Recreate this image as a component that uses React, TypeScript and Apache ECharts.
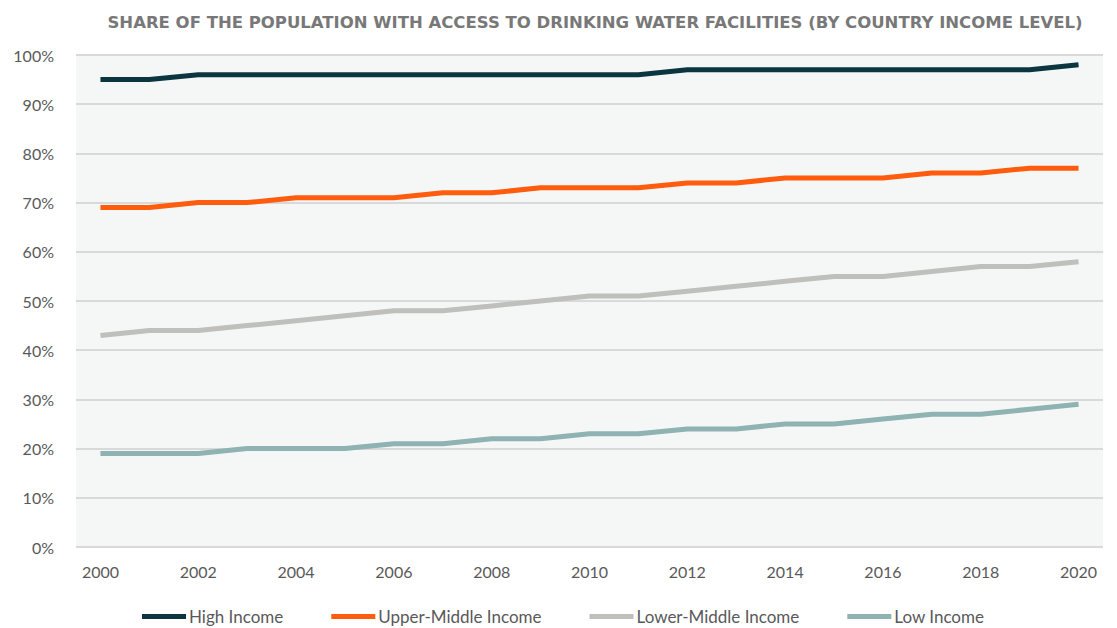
import React, { useEffect, useRef } from "react";
import * as echarts from "echarts";

const years = ["2000","2001","2002","2003","2004","2005","2006","2007","2008","2009","2010","2011","2012","2013","2014","2015","2016","2017","2018","2019","2020"];
const highIncome = [95,95,96,96,96,96,96,96,96,96,96,96,97,97,97,97,97,97,97,97,98];
const upperMiddle = [69,69,70,70,71,71,71,72,72,73,73,73,74,74,75,75,75,76,76,77,77];
const lowerMiddle = [43,44,44,45,46,47,48,48,49,50,51,51,52,53,54,55,55,56,57,57,58];
const lowIncome = [19,19,19,20,20,20,21,21,22,22,23,23,24,24,25,25,26,27,27,28,29];

const seriesNames = ["High Income", "Upper-Middle Income", "Lower-Middle Income", "Low Income"];
const seriesData = [highIncome, upperMiddle, lowerMiddle, lowIncome];
const colors = ["#0b3640", "#ff5c0d", "#bfbfbc", "#8fb2b2"];

const FONT = "Lato";

export default function App() {
  const ref = useRef<HTMLDivElement>(null);
  useEffect(() => {
    if (!ref.current) return;
    const chart = echarts.init(ref.current, null, { renderer: "svg" });
    chart.setOption({
      animation: false,
      backgroundColor: "#ffffff",
      textStyle: { fontFamily: FONT },
      title: {
        text: "SHARE OF THE POPULATION WITH ACCESS TO DRINKING WATER FACILITIES (BY COUNTRY INCOME LEVEL)",
        left: 590,
        textAlign: "center",
        top: 9,
        textStyle: { fontFamily: "DejaVu Sans", fontSize: 16.5, fontWeight: "bold", color: "#787878" },
      },
      legend: {
        top: 603,
        left: 137,
        icon: "rect",
        itemWidth: 44,
        itemHeight: 5,
        itemGap: 48,
        textStyle: { fontFamily: FONT, fontSize: 17, color: "#595959", padding: [0, 0, 0, -2] },
        data: seriesNames,
      },
      grid: {
        left: 76,
        right: 14,
        top: 55,
        bottom: 81,
        show: true,
        backgroundColor: "#f5f7f7",
        borderWidth: 0,
      },
      xAxis: {
        type: "category",
        data: years,
        boundaryGap: true,
        axisLine: { show: false },
        axisTick: { show: false },
        axisLabel: { interval: 1, fontFamily: FONT, fontSize: 16, color: "#595959", margin: 16 },
      },
      yAxis: {
        type: "value",
        min: 0,
        max: 100,
        interval: 10,
        axisLine: { show: false },
        axisTick: { show: false },
        axisLabel: { formatter: "{value}%", fontFamily: FONT, fontSize: 16, color: "#595959", margin: 22 },
        splitLine: { lineStyle: { color: "#d9d9d9", width: 2 } },
      },
      series: seriesNames.map((name, i) => ({
        name,
        type: "line",
        data: seriesData[i],
        color: colors[i],
        symbol: "none",
        lineStyle: { width: 5, color: colors[i] },
      })),
    });
    return () => chart.dispose();
  }, []);
  return <div ref={ref} style={{ position: "fixed", left: 0, top: 0, width: 1117, height: 628 }} />;
}
